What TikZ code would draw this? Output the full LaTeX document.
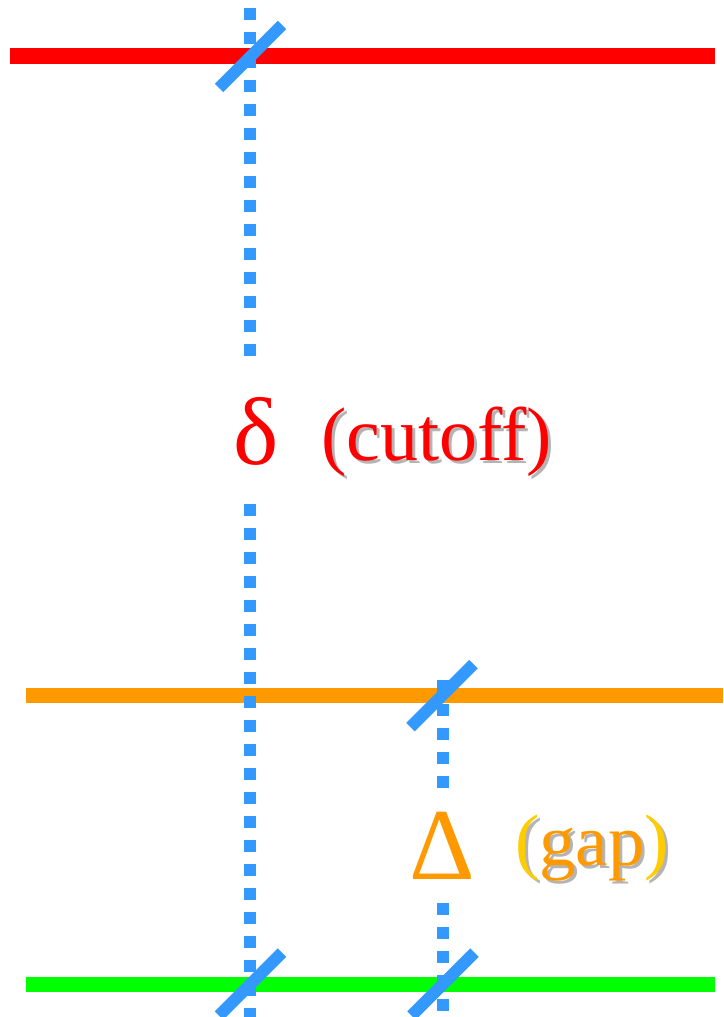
\documentclass[tikz,border=0pt]{standalone}
\usepackage{fontspec}
\setmainfont{Liberation Serif}
\definecolor{lred}{HTML}{FF0000}
\definecolor{lorange}{HTML}{FF9900}
\definecolor{lgreen}{HTML}{00FF00}
\definecolor{lblue}{HTML}{3399FF}
\definecolor{lgold}{HTML}{FFCC00}
\definecolor{lshadow}{HTML}{B4B4B4}
\newcommand{\shadowed}[2]{\rlap{\kern3pt\raisebox{-3pt}{\textcolor{lshadow}{#1}}}#2}
\tikzset{
  level/.style={line width=15pt, line cap=butt},
  dotted line/.style={lblue, line width=12pt, dash pattern=on 12pt off 12pt, line cap=butt},
  tick/.style={lblue, line width=12pt, line cap=butt},
  lbl/.style={inner sep=0pt, outer sep=0pt},
}
\begin{document}
\begin{tikzpicture}[x=1pt,y=-1pt]
\useasboundingbox (0,0) rectangle (723,1017);
\clip (0,0) rectangle (723,1017);
% energy levels
\coordinate (rL) at (10,56);   \coordinate (rR) at (715,56);
\coordinate (oL) at (26,695.5); \coordinate (oR) at (723,695.5);
\coordinate (gL) at (26,984);  \coordinate (gR) at (715,984);
\draw[level, lred, line width=16pt] (rL) -- (rR);
\draw[level, lorange] (oL) -- (oR);
\draw[level, lgreen] (gL) -- (gR);
% dotted verticals
\coordinate (a1) at (250,8);   \coordinate (a2) at (250,356);
\coordinate (a3) at (250,504); \coordinate (a4) at (250,1020);
\coordinate (b1) at (442.5,680); \coordinate (b2) at (442.5,788);
\coordinate (b3) at (442.5,903); \coordinate (b4) at (442.5,1020);
\draw[dotted line] (a1) -- (a2);
\draw[dotted line] (a3) -- (a4);
\draw[dotted line] (b1) -- (b2);
\draw[dotted line] (b3) -- (b4);
% ticks
\foreach \n/\cx/\cy in {t1/250.5/56.5, t2/442/695.5, t3/250.5/984, t4/443/984}{
  \coordinate (\n) at (\cx,\cy);
  \draw[tick] ([shift={(-31.5,31.5)}]\n) -- ([shift={(31.5,-31.5)}]\n);
}
% labels
\node[lbl, anchor=base, text=lred, font=\fontsize{96}{96}\selectfont] (delta) at (256.5,464) {δ};
\node[lbl, anchor=base west, font=\fontsize{76}{76}\selectfont] (cutoff) at (321,460)
  {\shadowed{(cutoff)}{\textcolor{lred}{(cutoff)}}};
\node[lbl, anchor=base, text=lorange, font=\fontsize{102}{102}\selectfont] (Delta) at (442,879) {Δ};
\node[lbl, anchor=base west, font=\fontsize{73}{73}\selectfont] (gap) at (515,865)
  {\shadowed{(gap)}{\textcolor{lgold}{(}\textcolor{lorange}{gap}\textcolor{lgold}{)}}};
\end{tikzpicture}
\end{document}
